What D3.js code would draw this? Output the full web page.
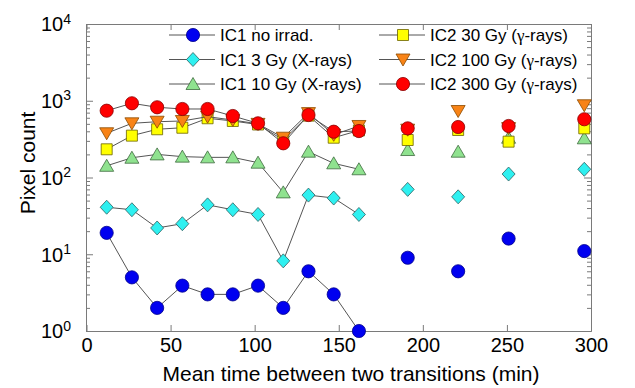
<!DOCTYPE html>
<html>
<head>
<meta charset="utf-8">
<script src="https://cdn.jsdelivr.net/npm/d3@7"></script>
<style>
  body { margin: 0; background: #fff; }
  svg { font-family: Arial, "Liberation Sans", sans-serif; }
</style>
</head>
<body>
<svg width="635" height="388"></svg>
<script>
// mean time between two transitions (min)
var times = [12, 27, 42, 57, 72, 87, 102, 117, 132, 147, 162, 191, 221, 251, 296];
var connected = 11; // first points joined by a line

var ic1None  = [19, 5, 2, 3.9, 3, 3, 3.9, 2, 6, 3, 1, 9, 6, 16, 11];
var ic1Gy3   = [41, 38, 22, 25, 44, 38, 33, 8.2, 59, 54, 33, 70, 56, 111, 128];
var ic1Gy10  = [142, 181, 200, 187, 183, 183, 156, 64, 217, 153, 128, 228, 217, 330, 324];
var ic2Gy30  = [233, 351, 425, 445, 591, 545, 490, 308, 640, 330, 410, 308, 416, 293, 437];
var ic2Gy100 = [377, 508, 533, 545, 620, 561, 500, 330, 690, 360, 469, 420, 735, 440, 873];
var ic2Gy300 = [742, 927, 822, 781, 781, 633, 508, 279, 652, 395, 403, 437, 455, 469, 574];

var seriesNames = ["IC1 no irrad.", "IC1 3 Gy (X-rays)", "IC1 10 Gy (X-rays)",
                   "IC2 30 Gy (γ-rays)", "IC2 100 Gy (γ-rays)", "IC2 300 Gy (γ-rays)"];
var xTicks = [0, 50, 100, 150, 200, 250, 300];
var yMajor = [1, 10, 100, 1000, 10000];

var series = [
  {name: seriesNames[0], values: ic1None,  shape: "circle",   fill: "#0000f0", stroke: "#00008a"},
  {name: seriesNames[1], values: ic1Gy3,   shape: "diamond",  fill: "#2ef0f0", stroke: "#2f6060"},
  {name: seriesNames[2], values: ic1Gy10,  shape: "triangle", fill: "#8fe28f", stroke: "#3d6a3d"},
  {name: seriesNames[3], values: ic2Gy30,  shape: "square",   fill: "#ffff00", stroke: "#6b6200"},
  {name: seriesNames[4], values: ic2Gy100, shape: "tridown",  fill: "#f88316", stroke: "#8a4a00"},
  {name: seriesNames[5], values: ic2Gy300, shape: "circle",   fill: "#ff0000", stroke: "#8a0000"}
];

var svg = d3.select("svg"),
    plotLeft = 86, plotRight = 591, plotTop = 24, plotBottom = 331;

var x = d3.scaleLinear().domain([0, 300]).range([plotLeft + 0.5, plotRight]);
var y = d3.scaleLog().domain([1, 10000]).range([plotBottom, plotTop]);

// marker outlines, centred on 0,0
function marker(shape) {
  if (shape == "circle") return d3.symbol().type(d3.symbolCircle).size(Math.PI * 6.6 * 6.6)();
  if (shape == "diamond") return "M0,-7L6.5,0L0,7L-6.5,0Z";
  if (shape == "square") return "M-5.5,-5.5H5.5V5.5H-5.5Z";
  if (shape == "triangle") return "M0,-6.5L7,5.5L-7,5.5Z";
  if (shape == "tridown") return "M0,6.5L7,-5.5L-7,-5.5Z";
}

// minor log ticks
var yMinor = [];
yMajor.slice(0, -1).forEach(function(p) {
  for (var k = 2; k < 10; k++) yMinor.push(p * k);
});

var frameColor = "#7a7a7a";

// left / right minor ticks
svg.append("g").attr("transform", "translate(" + plotLeft + ",0)")
  .call(d3.axisLeft(y).tickValues(yMinor).tickSizeInner(-4).tickSizeOuter(0).tickFormat(""));
svg.append("g").attr("transform", "translate(" + plotRight + ",0)")
  .call(d3.axisRight(y).tickValues(yMinor).tickSizeInner(-4).tickSizeOuter(0).tickFormat(""));

// left major ticks with 10^n labels
var yAxis = svg.append("g").attr("transform", "translate(" + plotLeft + ",0)")
  .call(d3.axisLeft(y).tickValues(yMajor).tickSizeInner(-7).tickSizeOuter(0).tickPadding(6).tickFormat(""));
svg.append("g").attr("transform", "translate(" + plotRight + ",0)")
  .call(d3.axisRight(y).tickValues(yMajor).tickSizeInner(-7).tickSizeOuter(0).tickFormat(""));

// bottom / top axes
svg.append("g").attr("transform", "translate(0," + plotBottom + ")")
  .call(d3.axisBottom(x).tickValues(xTicks).tickSizeInner(-6).tickSizeOuter(0).tickPadding(7));
svg.append("g").attr("transform", "translate(0," + plotTop + ")")
  .call(d3.axisTop(x).tickValues(xTicks).tickSizeInner(-6).tickSizeOuter(0).tickFormat(""));

svg.selectAll(".domain, .tick line").attr("stroke", frameColor);
svg.selectAll(".tick text").attr("font-size", "20px").attr("fill", "#000")
  .attr("font-family", "Arial, 'Liberation Sans', sans-serif");

yAxis.selectAll(".tick text").each(function(d) {
  var t = d3.select(this).attr("dy", "0.34em").attr("dx", "-9px");
  t.append("tspan").text("10");
  t.append("tspan").attr("dy", "-0.55em").attr("font-size", "14px").text(Math.round(Math.log10(d)));
});

// axis titles
svg.append("text")
  .attr("x", 351).attr("y", 381)
  .attr("text-anchor", "middle")
  .attr("font-size", "21px")
  .text("Mean time between two transitions (min)");

svg.append("text")
  .attr("transform", "translate(35,163) rotate(-90)")
  .attr("text-anchor", "middle")
  .attr("font-size", "21px")
  .text("Pixel count");

// lines for the joined part of every series
var line = d3.line()
  .x(function(d) { return x(d.t); })
  .y(function(d) { return y(d.v); });

function points(s) {
  return s.values.map(function(v, i) { return {t: times[i], v: v}; });
}

var plot = svg.append("g");

series.forEach(function(s) {
  plot.append("path")
    .datum(points(s).slice(0, connected))
    .attr("fill", "none")
    .attr("stroke", "#555")
    .attr("stroke-width", 1)
    .attr("d", line);

  plot.selectAll(null)
    .data(points(s))
    .enter().append("path")
    .attr("d", marker(s.shape))
    .attr("transform", function(d) { return "translate(" + x(d.t) + "," + y(d.v) + ")"; })
    .attr("fill", s.fill)
    .attr("stroke", s.stroke)
    .attr("stroke-width", 0.8);
});

// legend, two columns of three
var legend = svg.append("g")
  .selectAll("g")
  .data(series)
  .enter().append("g")
  .attr("transform", function(d, i) {
    return "translate(" + (i < 3 ? 169 : 379) + "," + (35 + (i % 3) * 24.5) + ")";
  });

legend.append("line")
  .attr("x1", 0).attr("x2", 46)
  .attr("stroke", "#555");

legend.append("path")
  .attr("transform", "translate(24,0)")
  .attr("d", function(d) { return marker(d.shape); })
  .attr("fill", function(d) { return d.fill; })
  .attr("stroke", function(d) { return d.stroke; })
  .attr("stroke-width", 0.8);

legend.append("text")
  .attr("x", 51)
  .attr("dy", "0.36em")
  .attr("font-size", "17px")
  .each(function(d) {
    var t = d3.select(this), parts = d.name.split("γ");
    t.append("tspan").text(parts[0]);
    if (parts.length > 1) {
      t.append("tspan").attr("font-family", "'Liberation Serif', 'Times New Roman', serif").text("γ");
      t.append("tspan").text(parts[1]);
    }
  });
</script>
</body>
</html>
